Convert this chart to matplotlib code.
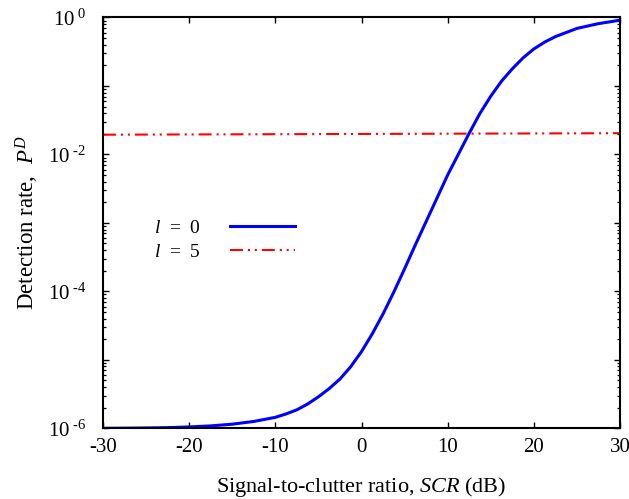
import numpy as np
import matplotlib
matplotlib.use("Agg")
import matplotlib.pyplot as plt
from matplotlib.ticker import NullFormatter, FuncFormatter

plt.rcParams["font.family"] = ["Liberation Serif", "DejaVu Serif"]
plt.rcParams["mathtext.fontset"] = "custom"
plt.rcParams["mathtext.rm"] = "Liberation Serif"
plt.rcParams["mathtext.it"] = "Liberation Serif:italic"

# SCR (dB) and log10 of detection rate
scr_l0 = [-30, -27.5, -25, -22.5, -20, -17.5, -15, -12.5, -10, -8.75, -7.5,
          -6.25, -5, -3.75, -2.5, -1.25, 0, 1.25, 2.5, 3.75, 5, 6.25, 7.5,
          10, 12.5, 13.75, 15, 16.25, 17.5, 18.75, 20, 21.25, 22.5, 25,
          27.5, 30]
logpd_l0 = [-6.00, -5.998, -5.995, -5.99, -5.98, -5.965, -5.94, -5.90, -5.84,
            -5.79, -5.73, -5.645, -5.54, -5.42, -5.28, -5.10, -4.88, -4.62,
            -4.33, -4.01, -3.67, -3.32, -2.98, -2.30, -1.69, -1.40, -1.15,
            -0.93, -0.75, -0.59, -0.46, -0.36, -0.28, -0.16, -0.09, -0.04]
scr_l5 = [-30, 0, 30]
pd_l5 = [0.0194, 0.0199, 0.0204]

fig = plt.figure(figsize=(6.29, 4.99), dpi=100)
ax = fig.add_axes([0.1638, 0.1417, 0.8219, 0.8233])

ax.plot(scr_l0, 10 ** np.array(logpd_l0), color="#0000ff", lw=2.2,
        label="$l$  =  0")
ax.plot(scr_l5, pd_l5, color="#ff0000", lw=1.5,
        ls=(0, (6.2, 2.4, 1, 2.3, 1, 2.4)), label="$l$  =  5")

ax.set_yscale("log")
ax.set_xlim(-30, 30)
ax.set_ylim(1e-6, 1)

ax.set_xticks(np.arange(-30, 31, 10))
ax.xaxis.set_major_formatter(FuncFormatter(lambda v, p: f"{v:.0f}"))
ax.set_yticks([10.0 ** e for e in range(-6, 1)])
ax.set_yticks([m * 10.0 ** e for e in range(-6, 0) for m in range(2, 10)],
              minor=True)
ax.yaxis.set_minor_formatter(NullFormatter())


def ylab(v, pos):
    e = int(round(np.log10(v)))
    if e % 2:
        return ""
    return r"10$^{\text{ %d}}$" % e


ax.yaxis.set_major_formatter(FuncFormatter(ylab))
ax.tick_params(which="both", direction="in", top=True, right=True,
               labelsize=15, width=1)
ax.tick_params(which="major", length=4)
ax.tick_params(axis="y", which="minor", length=2.5, width=0.9, left=True,
               right=True)
ax.tick_params(axis="x", pad=7)
ax.tick_params(axis="y", pad=12)
for s in ax.spines.values():
    s.set_linewidth(1.5)

ax.set_xlabel(r"Signal-to-clutter ratio, $\mathit{SCR}$ (dB)", fontsize=16,
              labelpad=13)
ax.set_ylabel(r"Detection rate,  $P^{D}$", fontsize=16.5, labelpad=5)

ax.legend(loc="center right", bbox_to_anchor=(0.372, 0.458), frameon=False,
          markerfirst=False, fontsize=14, handlelength=3.35,
          handletextpad=1.5, labelspacing=0.3, borderpad=0, borderaxespad=0)

fig.savefig("out.png", dpi=100)
